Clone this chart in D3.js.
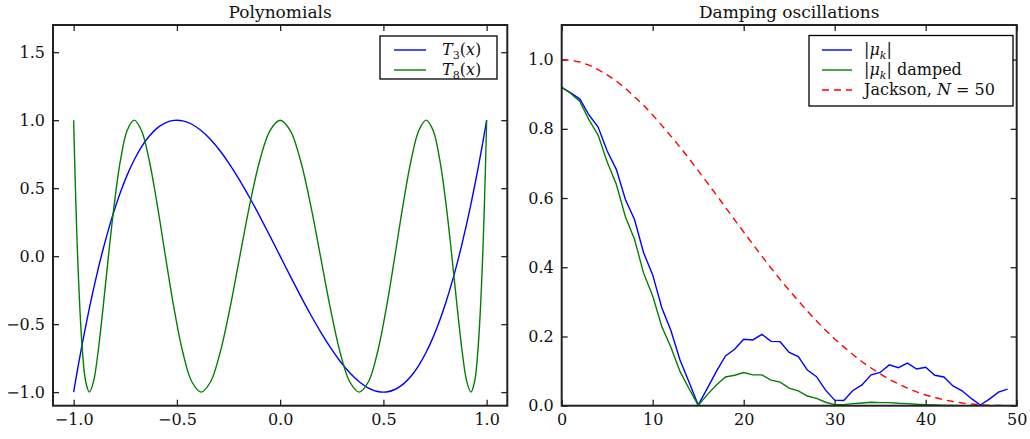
<!DOCTYPE html>
<html>
<head>
<meta charset="utf-8" />
<script src="https://cdn.jsdelivr.net/npm/d3@7"></script>
<style>
    body { margin: 0; background: #fff; }
    text { font-family: "DejaVu Serif", serif; fill: #111; }
    .tick line { stroke: #222; stroke-width: 1.3; }
    .domain { display: none; }
</style>
</head>
<body>
<script>
    // Polynomials panel: sample points along x (denser near the ends)
    var polyX = [-1, -0.99880, -0.99518, -0.98918, -0.98079, -0.97003, -0.95694, -0.94154,
        -0.92388, -0.90399, -0.88192, -0.85773, -0.83147, -0.80321, -0.77301, -0.74095,
        -0.70711, -0.67156, -0.63439, -0.59570, -0.55557, -0.51410, -0.47140, -0.42756,
        -0.38268, -0.33689, -0.29028, -0.24298, -0.19509, -0.14673, -0.09802, -0.04907, 0,
        0.04907, 0.09802, 0.14673, 0.19509, 0.24298, 0.29028, 0.33689, 0.38268,
        0.42756, 0.47140, 0.51410, 0.55557, 0.59570, 0.63439, 0.67156, 0.70711,
        0.74095, 0.77301, 0.80321, 0.83147, 0.85773, 0.88192, 0.90399, 0.92388,
        0.94154, 0.95694, 0.97003, 0.98079, 0.98918, 0.99518, 0.99880, 1];
    var t3Values = [-1, -0.98918, -0.95694, -0.90399, -0.83147, -0.74095, -0.63439, -0.51410,
        -0.38268, -0.24298, -0.09802, 0.04907, 0.19509, 0.33689, 0.47140, 0.59570,
        0.70711, 0.80321, 0.88192, 0.94154, 0.98079, 0.99880, 0.99518, 0.97003,
        0.92388, 0.85773, 0.77301, 0.67156, 0.55557, 0.42756, 0.29028, 0.14673, 0,
        -0.14673, -0.29028, -0.42756, -0.55557, -0.67156, -0.77301, -0.85773, -0.92388,
        -0.97003, -0.99518, -0.99880, -0.98079, -0.94154, -0.88192, -0.80321, -0.70711,
        -0.59570, -0.47140, -0.33689, -0.19509, -0.04907, 0.09802, 0.24298, 0.38268,
        0.51410, 0.63439, 0.74095, 0.83147, 0.90399, 0.95694, 0.98918, 1];
    var t8Values = [1, 0.92388, 0.70711, 0.38268, 0, -0.38268, -0.70711, -0.92388,
        -1, -0.92388, -0.70711, -0.38268, 0, 0.38268, 0.70711, 0.92388,
        1, 0.92388, 0.70711, 0.38268, 0, -0.38268, -0.70711, -0.92388,
        -1, -0.92388, -0.70711, -0.38268, 0, 0.38268, 0.70711, 0.92388, 1,
        0.92388, 0.70711, 0.38268, 0, -0.38268, -0.70711, -0.92388, -1,
        -0.92388, -0.70711, -0.38268, 0, 0.38268, 0.70711, 0.92388, 1,
        0.92388, 0.70711, 0.38268, 0, -0.38268, -0.70711, -0.92388, -1,
        -0.92388, -0.70711, -0.38268, 0, 0.38268, 0.70711, 0.92388, 1];
    var polyXTicks = [-1, -0.5, 0, 0.5, 1];
    var polyYTicks = [-1, -0.5, 0, 0.5, 1, 1.5];

    // Damping panel: k = 0..49
    var muAbs = [0.920, 0.904, 0.886, 0.840, 0.805, 0.736, 0.683, 0.596, 0.538, 0.442,
        0.378, 0.283, 0.217, 0.132, 0.068, 0.002, 0.050, 0.099, 0.144, 0.163,
        0.192, 0.190, 0.206, 0.186, 0.185, 0.154, 0.142, 0.103, 0.084, 0.045,
        0.016, 0.015, 0.044, 0.060, 0.089, 0.096, 0.118, 0.110, 0.123, 0.106,
        0.111, 0.088, 0.083, 0.057, 0.043, 0.021, 0.002, 0.019, 0.039, 0.048];
    var muDamped = [0.920, 0.902, 0.879, 0.826, 0.782, 0.704, 0.640, 0.546, 0.481, 0.383,
        0.317, 0.229, 0.169, 0.099, 0.049, 0.001, 0.032, 0.060, 0.083, 0.088,
        0.096, 0.089, 0.089, 0.074, 0.068, 0.051, 0.043, 0.028, 0.021, 0.010,
        0.003, 0.003, 0.006, 0.008, 0.010, 0.009, 0.009, 0.007, 0.006, 0.004,
        0.003, 0.002, 0.001, 0.001, 0.000, 0.000, 0.000, 0.000, 0.000, 0.000];
    var jackson = [1.000, 0.998, 0.993, 0.984, 0.971, 0.956, 0.938, 0.917, 0.893, 0.868,
        0.840, 0.810, 0.779, 0.747, 0.714, 0.679, 0.644, 0.609, 0.573, 0.537,
        0.502, 0.467, 0.432, 0.398, 0.365, 0.333, 0.303, 0.273, 0.245, 0.218,
        0.193, 0.170, 0.148, 0.127, 0.109, 0.092, 0.076, 0.063, 0.051, 0.040,
        0.031, 0.024, 0.017, 0.012, 0.008, 0.005, 0.003, 0.001, 0.001, 0.000];
    var dampXTicks = [0, 10, 20, 30, 40, 50];
    var dampYTicks = [0, 0.2, 0.4, 0.6, 0.8, 1.0];

    var width = 1030,
        height = 439,
        axTop = 25,
        axBottom = 405.7;

    var svg = d3.select("body").append("svg")
        .attr("width", width)
        .attr("height", height);

    var fmt = d3.format(".1f");

    function panel(left, right, xDomain, yDomain, xTicks, yTicks, xFormat, title, id) {
        var x = d3.scaleLinear().domain(xDomain).range([left, right]);
        var y = d3.scaleLinear().domain(yDomain).range([axBottom, axTop]);

        svg.append("clipPath").attr("id", id)
            .append("rect")
            .attr("x", left).attr("y", axTop)
            .attr("width", right - left).attr("height", axBottom - axTop);

        svg.append("g")
            .attr("transform", "translate(0," + axBottom + ")")
            .call(d3.axisBottom(x).tickValues(xTicks).tickSize(-6).tickPadding(8).tickFormat(xFormat))
            .attr("font-size", 16).attr("font-family", "DejaVu Serif");
        svg.append("g")
            .attr("transform", "translate(0," + axTop + ")")
            .call(d3.axisTop(x).tickValues(xTicks).tickSize(-6).tickFormat(""));
        svg.append("g")
            .attr("transform", "translate(" + left + ",0)")
            .call(d3.axisLeft(y).tickValues(yTicks).tickSize(-6).tickPadding(8).tickFormat(fmt))
            .attr("font-size", 16).attr("font-family", "DejaVu Serif");
        svg.append("g")
            .attr("transform", "translate(" + right + ",0)")
            .call(d3.axisRight(y).tickValues(yTicks).tickSize(-6).tickFormat(""));

        svg.append("text")
            .attr("x", (left + right) / 2)
            .attr("y", 18)
            .attr("text-anchor", "middle")
            .style("font-size", "17px")
            .text(title);

        return { x: x, y: y };
    }

    function frame(left, right) {
        svg.append("rect")
            .attr("x", left).attr("y", axTop)
            .attr("width", right - left).attr("height", axBottom - axTop)
            .attr("fill", "none")
            .attr("stroke", "#222")
            .attr("stroke-width", 2);
    }

    // ---- left: polynomials
    var p1 = panel(53, 507.3, [-1.1, 1.1], [-1.1, 1.7], polyXTicks, polyYTicks, fmt, "Polynomials", "clipL");

    var polyLine = function (vals) {
        return d3.line()
            .x(function (d, i) { return p1.x(polyX[i]); })
            .y(function (d) { return p1.y(d); })
            .curve(d3.curveCatmullRom.alpha(0.5))(vals);
    };

    svg.append("path").attr("d", polyLine(t3Values))
        .attr("fill", "none").attr("stroke", "#0000ff").attr("stroke-width", 1.4)
        .attr("clip-path", "url(#clipL)");
    svg.append("path").attr("d", polyLine(t8Values))
        .attr("fill", "none").attr("stroke", "#008000").attr("stroke-width", 1.4)
        .attr("clip-path", "url(#clipL)");
    frame(53, 507.3);

    // ---- right: damping
    var p2 = panel(561.7, 1016.7, [0, 50], [0, 1.1], dampXTicks, dampYTicks, d3.format("d"), "Damping oscillations", "clipR");

    var kLine = d3.line()
        .x(function (d, i) { return p2.x(i); })
        .y(function (d) { return p2.y(d); });

    svg.append("path").attr("d", kLine(jackson))
        .attr("fill", "none").attr("stroke", "#ff0000").attr("stroke-width", 1.4)
        .attr("stroke-dasharray", "7,5")
        .attr("clip-path", "url(#clipR)");
    svg.append("path").attr("d", kLine(muAbs))
        .attr("fill", "none").attr("stroke", "#0000ff").attr("stroke-width", 1.4)
        .attr("clip-path", "url(#clipR)");
    svg.append("path").attr("d", kLine(muDamped))
        .attr("fill", "none").attr("stroke", "#008000").attr("stroke-width", 1.4)
        .attr("clip-path", "url(#clipR)");
    frame(561.7, 1016.7);

    // ---- legends
    function legendBox(x0, y0, w, h) {
        svg.append("rect")
            .attr("x", x0).attr("y", y0)
            .attr("width", w).attr("height", h)
            .attr("fill", "#fff")
            .attr("stroke", "#000")
            .attr("stroke-width", 1.3);
    }

    function legendLine(x0, x1, yy, color, dash) {
        svg.append("line")
            .attr("x1", x0).attr("x2", x1)
            .attr("y1", yy).attr("y2", yy)
            .attr("stroke", color).attr("stroke-width", 1.4)
            .attr("stroke-dasharray", dash || null);
    }

    function mathLabel(x0, yy, parts) {
        var t = svg.append("text")
            .attr("x", x0).attr("y", yy + 5)
            .style("font-size", "16px");
        parts.forEach(function (p) {
            var s = t.append("tspan").text(p.s);
            if (p.it) s.attr("font-style", "italic");
            if (p.sub) s.attr("dy", 4).style("font-size", "11px");
            if (p.up) s.attr("dy", -4);
        });
    }

    legendBox(380, 36, 117, 43);
    legendLine(394, 426, 50, "#0000ff");
    legendLine(394, 426, 70, "#008000");
    mathLabel(442, 50, [{ s: "T", it: true }, { s: "3", sub: true }, { s: "(", up: true }, { s: "x", it: true }, { s: ")" }]);
    mathLabel(442, 70, [{ s: "T", it: true }, { s: "8", sub: true }, { s: "(", up: true }, { s: "x", it: true }, { s: ")" }]);

    legendBox(809, 35.5, 204, 70.5);
    legendLine(822, 852, 50, "#0000ff");
    legendLine(822, 852, 70, "#008000");
    legendLine(822, 852, 90, "#ff0000", "7,5");
    mathLabel(864, 50, [{ s: "|" }, { s: "μ", it: true }, { s: "k", it: true, sub: true }, { s: "|", up: true }]);
    mathLabel(864, 70, [{ s: "|" }, { s: "μ", it: true }, { s: "k", it: true, sub: true }, { s: "| damped", up: true }]);
    mathLabel(864, 90, [{ s: "Jackson, " }, { s: "N", it: true }, { s: " = 50" }]);
</script>
</body>
</html>
